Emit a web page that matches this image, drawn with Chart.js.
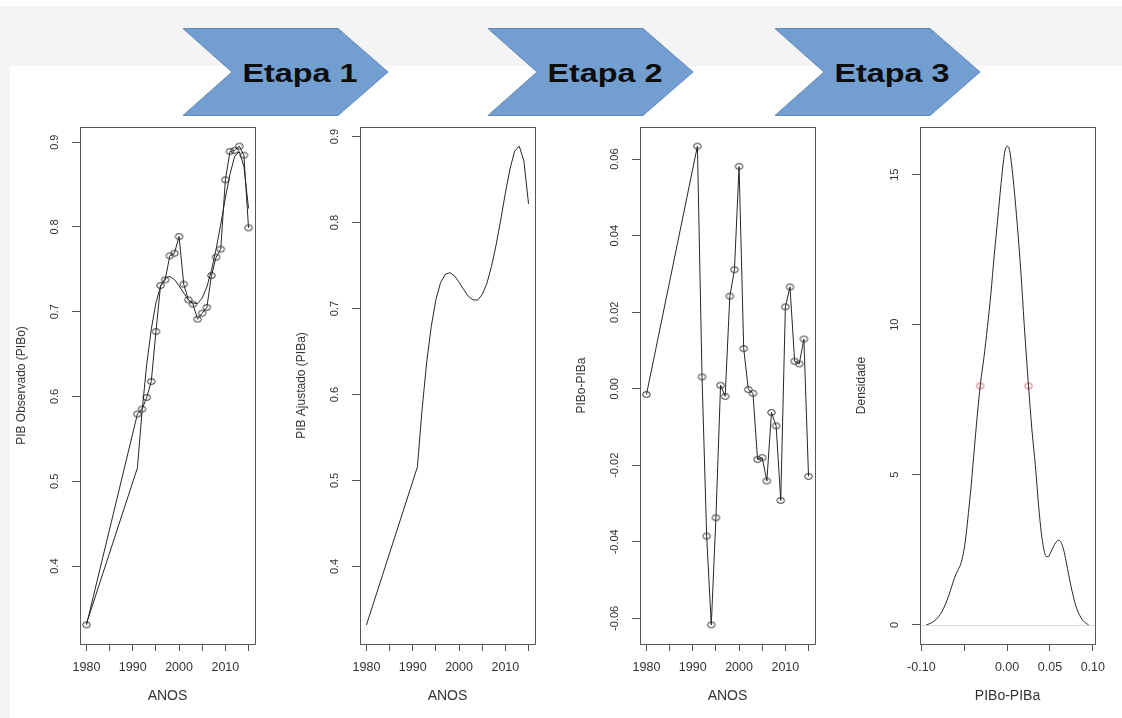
<!DOCTYPE html>
<html lang="pt">
<head>
<meta charset="utf-8">
<title>PIB: observado, ajustado, resíduos e densidade</title>
<script src="https://cdn.jsdelivr.net/npm/chart.js@4.4.1/dist/chart.umd.min.js"></script>
<style>
  html, body { margin: 0; padding: 0; background: #ffffff; }
  #stage { position: relative; width: 1122px; height: 718px; overflow: hidden; background: #ffffff; }
  .band { position: absolute; background: #f4f4f4; }
  #etapas { position: absolute; left: 0; top: 0; }
  .painel { position: absolute; top: 120px; }
</style>
</head>
<body>
<div id="stage">
  <div class="band" style="left:0;top:6px;width:1122px;height:60px;"></div>
  <div class="band" style="left:0;top:66px;width:10px;height:652px;"></div>

  <svg id="etapas" width="1122" height="120" xmlns="http://www.w3.org/2000/svg"></svg>

  <canvas id="p1" class="painel" width="280" height="598" style="left:0px"></canvas>
  <canvas id="p2" class="painel" width="280" height="598" style="left:280px"></canvas>
  <canvas id="p3" class="painel" width="280" height="598" style="left:560px"></canvas>
  <canvas id="p4" class="painel" width="280" height="598" style="left:840px"></canvas>
</div>

<script>
// ---- Séries ----
const anos = [1980, 1991, 1992, 1993, 1994, 1995, 1996, 1997, 1998, 1999, 2000, 2001, 2002,
              2003, 2004, 2005, 2006, 2007, 2008, 2009, 2010, 2011, 2012, 2013, 2014, 2015];

const pibObservado = [0.3306, 0.5792, 0.5851, 0.5988, 0.6177, 0.6766, 0.7309, 0.7376, 0.7659,
                      0.7691, 0.7887, 0.7325, 0.7140, 0.7089, 0.6912, 0.6983, 0.7050, 0.7427,
                      0.7643, 0.7738, 0.8556, 0.8890, 0.8902, 0.8953, 0.8847, 0.7989];

const pibAjustado = [0.3321, 0.5158, 0.5820, 0.6373, 0.6794, 0.7103, 0.7300, 0.7396, 0.7417,
                     0.7380, 0.7306, 0.7220, 0.7142, 0.7101, 0.7097, 0.7163, 0.7291, 0.7489,
                     0.7740, 0.8030, 0.8342, 0.8624, 0.8830, 0.8888, 0.8717, 0.8218];

const residuos = [-0.0015, 0.0634, 0.0031, -0.0385, -0.0617, -0.0337, 0.0009, -0.0020, 0.0242,
                  0.0311, 0.0581, 0.0105, -0.0002, -0.0012, -0.0185, -0.0180, -0.0241, -0.0062,
                  -0.0097, -0.0292, 0.0214, 0.0266, 0.0072, 0.0065, 0.0130, -0.0229];

// Densidade estimada dos resíduos
const densX = [-0.094, -0.088, -0.082, -0.078, -0.074, -0.070, -0.066, -0.063, -0.060, -0.057,
               -0.054, -0.051, -0.048, -0.045, -0.042, -0.039, -0.035, -0.031, -0.027, -0.023,
               -0.019, -0.015, -0.011, -0.007, -0.004, -0.002, 0.0005, 0.003, 0.005, 0.008,
               0.012, 0.016, 0.020, 0.025, 0.029, 0.033, 0.037, 0.040, 0.043, 0.0455,
               0.048, 0.051, 0.054, 0.057, 0.060, 0.063, 0.066, 0.069, 0.072, 0.076,
               0.080, 0.085, 0.090, 0.095];
const densY = [0.00, 0.07, 0.20, 0.35, 0.55, 0.82, 1.15, 1.42, 1.66, 1.84,
               2.03, 2.38, 2.95, 3.75, 4.60, 5.60, 6.90, 8.05, 8.90, 9.90,
               11.0, 12.3, 13.5, 14.7, 15.5, 15.85, 15.95, 15.8, 15.4, 14.6,
               13.3, 11.8, 10.0, 7.96, 6.50, 5.30, 3.90, 3.05, 2.50, 2.28,
               2.27, 2.42, 2.60, 2.75, 2.82, 2.75, 2.50, 2.10, 1.65, 1.10,
               0.65, 0.30, 0.10, 0.00];

// Pontos de meia altura da densidade
const meiaAlturaX = [-0.0313, 0.0250];
const meiaAlturaY = [7.96, 7.96];

// ---- Marcas dos eixos ----
const anoTicks  = [1980, 1985, 1990, 1995, 2000, 2005, 2010, 2015];
const anoLabels = ['1980', '', '1990', '', '2000', '', '2010', ''];
const pibTicks  = [0.4, 0.5, 0.6, 0.7, 0.8, 0.9];
const pibLabels = ['0.4', '0.5', '0.6', '0.7', '0.8', '0.9'];
const resTicks  = [-0.06, -0.04, -0.02, 0, 0.02, 0.04, 0.06];
const resLabels = ['-0.06', '-0.04', '-0.02', '0.00', '0.02', '0.04', '0.06'];
const densTicks  = [0, 5, 10, 15];
const densLabels = ['0', '5', '10', '15'];
const difTicks  = [-0.10, -0.05, 0, 0.05, 0.10];
const difLabels = ['-0.10', '', '0.00', '0.05', '0.10'];

const etapas = ['Etapa 1', 'Etapa 2', 'Etapa 3'];

// ---- Setas das etapas ----
(function desenhaEtapas() {
  const svg = document.getElementById('etapas');
  const NS = 'http://www.w3.org/2000/svg';
  const esquerdas = [183, 488, 775];
  etapas.forEach((txt, i) => {
    const L = esquerdas[i];
    const poly = document.createElementNS(NS, 'polygon');
    poly.setAttribute('points',
      `${L},28.5 ${L + 155},28.5 ${L + 205},72 ${L + 155},115.5 ${L},115.5 ${L + 49},72`);
    poly.setAttribute('fill', '#729fcf');
    poly.setAttribute('stroke', '#5e89bb');
    poly.setAttribute('stroke-width', '1');
    svg.appendChild(poly);
    const t = document.createElementNS(NS, 'text');
    t.setAttribute('x', L + 117);
    t.setAttribute('y', 82);
    t.setAttribute('text-anchor', 'middle');
    t.setAttribute('font-family', '"Liberation Sans", Arial, sans-serif');
    t.setAttribute('font-weight', 'bold');
    t.setAttribute('font-size', '25.5');
    t.setAttribute('fill', '#0d0d0d');
    t.setAttribute('textLength', '115');
    t.setAttribute('lengthAdjust', 'spacingAndGlyphs');
    t.textContent = txt;
    svg.appendChild(t);
  });
})();

// ---- Gráficos ----
Chart.defaults.font.family = '"Liberation Sans", Arial, Helvetica, sans-serif';
Chart.defaults.color = '#333333';

const TINTA = '#262626';
const MOLDURA = '#555555';

// círculo aberto (levemente achatado) usado como marcador
function anel(cor) {
  const c = document.createElement('canvas');
  c.width = 11; c.height = 9;
  const g = c.getContext('2d');
  g.strokeStyle = cor;
  g.lineWidth = 1;
  g.beginPath();
  g.ellipse(5.5, 4.5, 3.8, 2.9, 0, 0, Math.PI * 2);
  g.stroke();
  return c;
}
const anelPreto = anel('#2a2a2a');
const anelVermelho = anel('#e0606a');

// limites com 4% de folga, como nos gráficos base do R
function folga(vals) {
  const lo = Math.min(...vals), hi = Math.max(...vals);
  const d = (hi - lo) * 0.04;
  return [lo - d, hi + d];
}

// moldura do painel, linha do zero e rótulos verticais do eixo y
const molduraR = {
  id: 'molduraR',
  beforeDatasetsDraw(chart, args, opts) {
    if (!opts.linhaZero) return;
    const { ctx, chartArea: a } = chart;
    const y = Math.round(chart.scales.y.getPixelForValue(0)) + 0.5;
    ctx.save();
    ctx.strokeStyle = '#dcdcdc';
    ctx.lineWidth = 1;
    ctx.beginPath();
    ctx.moveTo(a.left, y);
    ctx.lineTo(a.right, y);
    ctx.stroke();
    ctx.restore();
  },
  afterDraw(chart, args, opts) {
    const { ctx, chartArea: a } = chart;
    ctx.save();
    ctx.strokeStyle = MOLDURA;
    ctx.lineWidth = 1;
    ctx.strokeRect(Math.round(a.left) + 0.5, Math.round(a.top) + 0.5,
                   Math.round(a.right - a.left), Math.round(a.bottom - a.top));
    const ys = chart.scales.y;
    ctx.fillStyle = '#333333';
    ctx.font = '11px "Liberation Sans", Arial, sans-serif';
    ctx.textAlign = 'center';
    ctx.textBaseline = 'middle';
    (opts.ticks || []).forEach((v, i) => {
      const py = ys.getPixelForValue(v);
      ctx.save();
      ctx.translate(a.left - 25, py);
      ctx.rotate(-Math.PI / 2);
      ctx.fillText(opts.labels[i], 0, 0);
      ctx.restore();
    });
    ctx.restore();
  }
};

function painel(id, cfg) {
  return new Chart(document.getElementById(id), {
    type: 'scatter',
    data: { datasets: cfg.datasets },
    plugins: [molduraR],
    options: {
      responsive: false,
      animation: false,
      devicePixelRatio: 1,
      layout: { padding: { left: 0, right: 25, top: 7, bottom: 0 } },
      plugins: {
        legend: { display: false },
        tooltip: { enabled: false },
        molduraR: { ticks: cfg.yTicks, labels: cfg.yLabels, linhaZero: !!cfg.linhaZero }
      },
      scales: {
        x: {
          type: 'linear',
          min: cfg.xLim[0], max: cfg.xLim[1],
          afterBuildTicks: s => { s.ticks = cfg.xTicks.map(v => ({ value: v })); },
          afterFit: s => { s.height = 74; },
          ticks: {
            autoSkip: false, maxRotation: 0, minRotation: 0, padding: 9,
            font: { size: 12.5 }, color: '#333333',
            callback: (v, i) => cfg.xLabels[i]
          },
          grid: { display: true, drawOnChartArea: false, drawTicks: true,
                  tickLength: 7, tickColor: MOLDURA, lineWidth: 1 },
          border: { display: false },
          title: { display: true, text: cfg.xTitle, font: { size: 14 }, color: '#333333',
                   padding: { top: 0, bottom: 13 } }
        },
        y: {
          type: 'linear',
          min: cfg.yLim[0], max: cfg.yLim[1],
          afterBuildTicks: s => { s.ticks = cfg.yTicks.map(v => ({ value: v })); },
          afterFit: s => { s.width = 80; },
          ticks: { display: false },
          grid: { display: true, drawOnChartArea: false, drawTicks: true,
                  tickLength: 8, tickColor: MOLDURA, lineWidth: 1 },
          border: { display: false },
          title: { display: true, text: cfg.yTitle, font: { size: 12 }, color: '#333333',
                   padding: { top: 14, bottom: 0 } }
        }
      }
    }
  });
}

const xy = (xs, ys) => xs.map((x, i) => ({ x, y: ys[i] }));
const limAnos = folga(anos);

const linha = (data) => ({
  data, showLine: true, borderColor: TINTA, borderWidth: 1,
  pointRadius: 0, fill: false, tension: 0
});
const linhaComPontos = (data) => ({
  data, showLine: true, borderColor: TINTA, borderWidth: 1,
  pointStyle: anelPreto, pointRadius: 4, fill: false, tension: 0
});

// Etapa 1: PIB observado com a curva ajustada
painel('p1', {
  datasets: [linhaComPontos(xy(anos, pibObservado)), linha(xy(anos, pibAjustado))],
  xLim: limAnos, yLim: folga(pibObservado),
  xTicks: anoTicks, xLabels: anoLabels, yTicks: pibTicks, yLabels: pibLabels,
  xTitle: 'ANOS', yTitle: 'PIB Observado (PIBo)'
});

// PIB ajustado
painel('p2', {
  datasets: [linha(xy(anos, pibAjustado))],
  xLim: limAnos, yLim: folga(pibAjustado),
  xTicks: anoTicks, xLabels: anoLabels, yTicks: pibTicks, yLabels: pibLabels,
  xTitle: 'ANOS', yTitle: 'PIB Ajustado (PIBa)'
});

// Etapa 2: resíduos
painel('p3', {
  datasets: [linhaComPontos(xy(anos, residuos))],
  xLim: limAnos, yLim: folga(residuos),
  xTicks: anoTicks, xLabels: anoLabels, yTicks: resTicks, yLabels: resLabels,
  xTitle: 'ANOS', yTitle: 'PIBo-PIBa'
});

// Etapa 3: densidade dos resíduos
painel('p4', {
  datasets: [
    { data: xy(densX, densY), showLine: true, borderColor: TINTA, borderWidth: 1,
      pointRadius: 0, fill: false, cubicInterpolationMode: 'monotone' },
    { data: xy(meiaAlturaX, meiaAlturaY), showLine: false,
      pointStyle: anelVermelho, pointRadius: 4 }
  ],
  xLim: folga(densX), yLim: folga(densY),
  xTicks: difTicks, xLabels: difLabels, yTicks: densTicks, yLabels: densLabels,
  xTitle: 'PIBo-PIBa', yTitle: 'Densidade', linhaZero: true
});
</script>
</body>
</html>
